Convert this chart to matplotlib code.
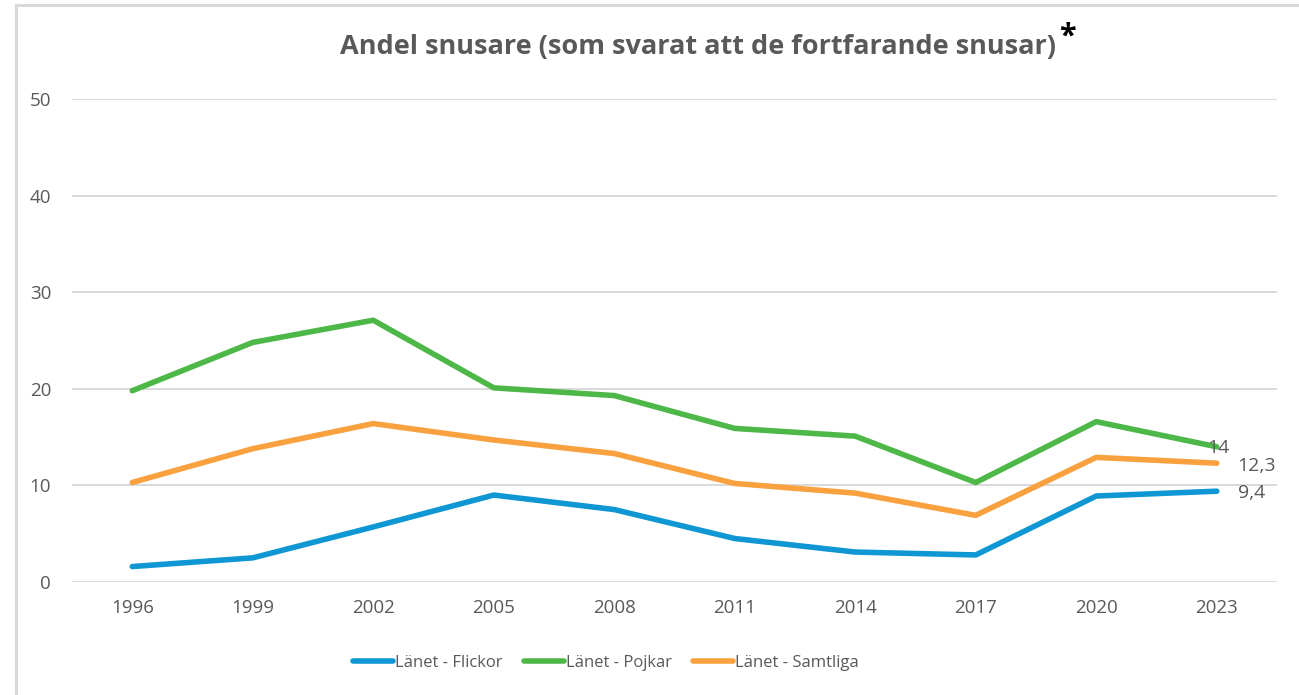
import matplotlib
matplotlib.use("Agg")
import matplotlib.pyplot as plt
from matplotlib.patches import Rectangle

# data
years = ["1996", "1999", "2002", "2005", "2008", "2011", "2014", "2017", "2020", "2023"]
flickor = [1.6, 2.5, 5.7, 9.0, 7.5, 4.5, 3.1, 2.8, 8.9, 9.4]
pojkar = [19.8, 24.8, 27.1, 20.1, 19.3, 15.9, 15.1, 10.3, 16.6, 14.0]
samtliga = [10.3, 13.8, 16.4, 14.7, 13.3, 10.2, 9.2, 6.9, 12.9, 12.3]
end_labels = ["9,4", "14", "12,3"]

blue = "#0e97d3"
green = "#4db848"
orange = "#f9a03f"
grey_text = "#595959"

plt.rcParams["font.family"] = ["Open Sans", "DejaVu Sans"]

W, H = 1299, 695
fig = plt.figure(figsize=(W / 100, H / 100), dpi=100)
ax = fig.add_axes([72 / W, 1 - 582 / H, (1277 - 72) / W, (582 - 99) / H])

x = list(range(len(years)))
ax.plot(x, flickor, color=blue, lw=4, solid_capstyle="round", label="Länet - Flickor", zorder=3)
ax.plot(x, pojkar, color=green, lw=4, solid_capstyle="round", label="Länet - Pojkar", zorder=3)
ax.plot(x, samtliga, color=orange, lw=4, solid_capstyle="round", label="Länet - Samtliga", zorder=3)

ax.set_xlim(-0.5, len(years) - 0.5)
ax.set_ylim(0, 50)
ax.set_yticks([0, 10, 20, 30, 40, 50])
ax.set_xticks(x)
ax.set_xticklabels(years)
ax.grid(axis="y", color="#d9d9d9", lw=1.4)
ax.set_axisbelow(True)
for s in ax.spines.values():
    s.set_visible(False)
ax.tick_params(length=0, labelsize=13.5, colors=grey_text)
ax.tick_params(axis="y", pad=15)
ax.tick_params(axis="x", pad=12)

# end-of-line labels
last = len(years) - 1
ax.annotate(end_labels[0], (last, flickor[-1]), xytext=(15, -1), textcoords="offset points",
            va="center", ha="left", fontsize=14, color=grey_text)
ax.annotate(end_labels[1], (last, pojkar[-1]), xytext=(1, -1), textcoords="offset points",
            va="center", ha="center", fontsize=14, color=grey_text)
ax.annotate(end_labels[2], (last, samtliga[-1]), xytext=(15, -2), textcoords="offset points",
            va="center", ha="left", fontsize=14, color=grey_text)

fig.text(698 / W, 1 - 47 / H, "Andel snusare (som svarat att de fortfarande snusar)",
         ha="center", va="center", fontsize=19.5, fontweight="bold", color=grey_text)
fig.text(1059 / W, 1 - 37 / H, "*", ha="left", va="center", fontsize=22, fontweight="bold", color="black")

ax.legend(loc="center", bbox_to_anchor=(606 / W, 1 - 663 / H), bbox_transform=fig.transFigure,
          ncol=3, frameon=False, fontsize=12, labelcolor=grey_text, handlelength=2.4,
          handletextpad=0.1, columnspacing=1.3)

# chart border
fig.patches.append(Rectangle((16 / W, -0.1), 1.2, 1.1 - 5 / H, transform=fig.transFigure,
                             fill=False, edgecolor="#d9d9d9", lw=2.2, clip_on=False))

fig.savefig("out.png", dpi=100)
